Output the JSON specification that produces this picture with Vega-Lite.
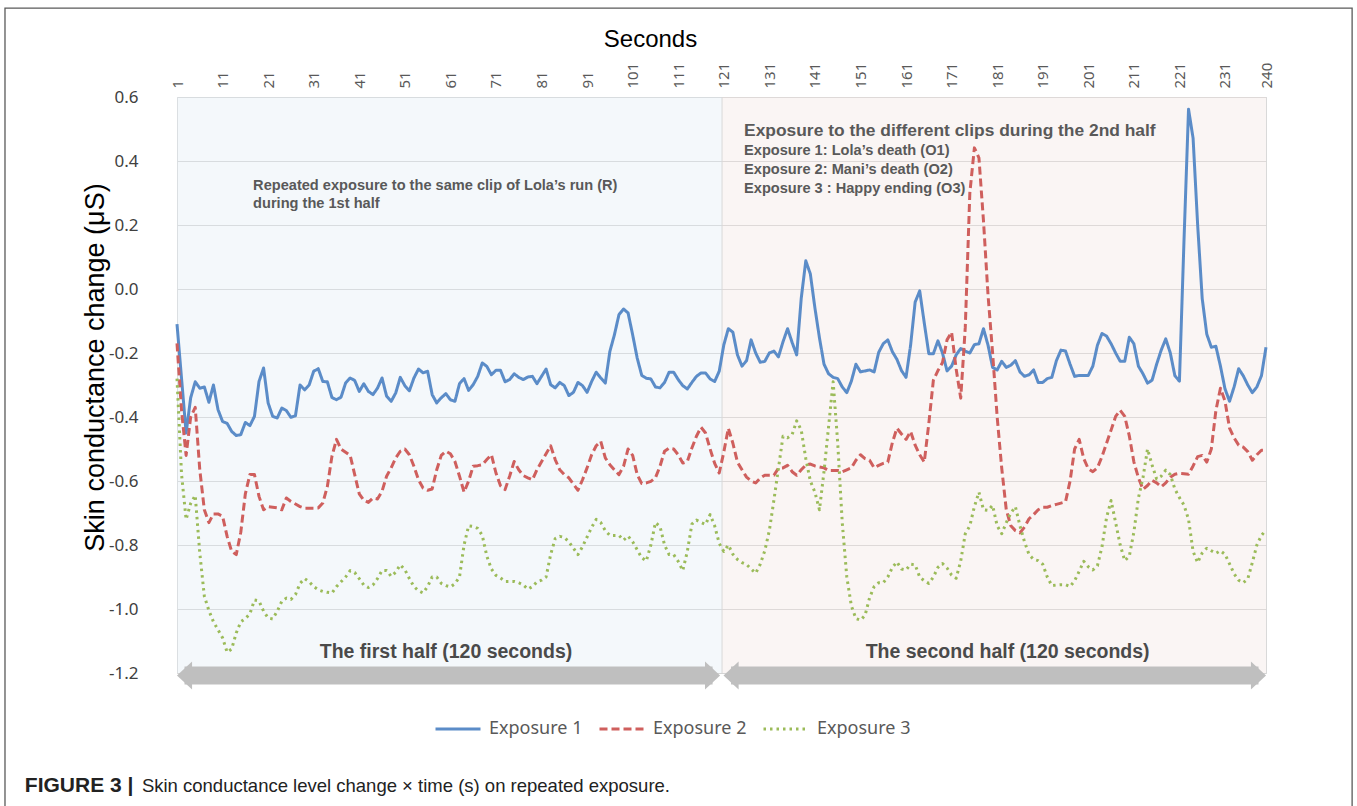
{
"$schema": "https://vega.github.io/schema/vega-lite/v6.json",
"width": 1089,
"height": 576,
"autosize": {"type": "none"},
"padding": {"left": 177, "top": 97, "right": 91, "bottom": 133},
"background": "white",
"config": {"view": {"stroke": "#d9d9d9", "strokeWidth": 1}},
"layer": [
{
"data": {"values": [{}]},
"mark": {"type": "rect", "fillOpacity": 0, "stroke": "#5a5a5a", "strokeWidth": 1.3, "clip": false},
"encoding": {"x": {"datum": -36.75, "type": "quantitative"}, "x2": {"datum": 258.9}, "y": {"datum": 0.878, "type": "quantitative"}, "y2": {"datum": -1.64}}
},
{
"data": {"values": [{"from": 1, "to": 120.62, "half": "first"}, {"from": 120.62, "to": 240, "half": "second"}]},
"mark": {"type": "rect", "opacity": 0.35},
"encoding": {
"x": {"field": "from", "type": "quantitative"}, "x2": {"field": "to"},
"y": {"datum": 0.6, "type": "quantitative"}, "y2": {"datum": -1.2},
"fill": {"condition": {"test": "datum.half === 'first'", "value": "#e0ebf4"}, "value": "#f1e2e0"}
}
},
{
"data": {"values": [{"at": 120.62}]},
"mark": {"type": "rule", "color": "#d9d9d9", "strokeWidth": 1},
"encoding": {"x": {"field": "at", "type": "quantitative"}, "y": {"datum": 0.6, "type": "quantitative"}, "y2": {"datum": -1.2}}
},
{
"data": {"values": [
{"s":1,"e1":-0.11,"e2":-0.17,"e3":-0.28},{"s":2,"e1":-0.28,"e2":-0.38,"e3":-0.58},{"s":3,"e1":-0.45,"e2":-0.52,"e3":-0.72},{"s":4,"e1":-0.34,"e2":-0.40,"e3":-0.67},{"s":5,"e1":-0.29,"e2":-0.37,"e3":-0.645},
{"s":6,"e1":-0.31,"e2":-0.565,"e3":-0.825},{"s":7,"e1":-0.306,"e2":-0.69,"e3":-0.96},{"s":8,"e1":-0.354,"e2":-0.73,"e3":-1.005},{"s":9,"e1":-0.30,"e2":-0.703,"e3":-1.04},{"s":10,"e1":-0.377,"e2":-0.703,"e3":-1.065},
{"s":11,"e1":-0.414,"e2":-0.71,"e3":-1.09},{"s":12,"e1":-0.42,"e2":-0.773,"e3":-1.135},{"s":13,"e1":-0.445,"e2":-0.82,"e3":-1.125},{"s":14,"e1":-0.458,"e2":-0.83,"e3":-1.075},{"s":15,"e1":-0.455,"e2":-0.76,"e3":-1.04},
{"s":16,"e1":-0.417,"e2":-0.64,"e3":-1.03},{"s":17,"e1":-0.427,"e2":-0.58,"e3":-1.015},{"s":18,"e1":-0.398,"e2":-0.58,"e3":-0.972},{"s":19,"e1":-0.289,"e2":-0.648,"e3":-0.975},{"s":20,"e1":-0.247,"e2":-0.69,"e3":-1.007},
{"s":21,"e1":-0.356,"e2":-0.68,"e3":-1.028},{"s":22,"e1":-0.398,"e2":-0.682,"e3":-1.031},{"s":23,"e1":-0.403,"e2":-0.684,"e3":-1.007},{"s":24,"e1":-0.372,"e2":-0.69,"e3":-0.976},{"s":25,"e1":-0.38,"e2":-0.653,"e3":-0.966},
{"s":26,"e1":-0.401,"e2":-0.664,"e3":-0.97},{"s":27,"e1":-0.396,"e2":-0.672,"e3":-0.955},{"s":28,"e1":-0.30,"e2":-0.68,"e3":-0.92},{"s":29,"e1":-0.315,"e2":-0.685,"e3":-0.905},{"s":30,"e1":-0.30,"e2":-0.685,"e3":-0.915},
{"s":31,"e1":-0.257,"e2":-0.685,"e3":-0.93},{"s":32,"e1":-0.249,"e2":-0.684,"e3":-0.94},{"s":33,"e1":-0.289,"e2":-0.669,"e3":-0.945},{"s":34,"e1":-0.29,"e2":-0.617,"e3":-0.948},{"s":35,"e1":-0.339,"e2":-0.523,"e3":-0.95},
{"s":36,"e1":-0.346,"e2":-0.47,"e3":-0.93},{"s":37,"e1":-0.338,"e2":-0.50,"e3":-0.915},{"s":38,"e1":-0.294,"e2":-0.51,"e3":-0.9},{"s":39,"e1":-0.278,"e2":-0.52,"e3":-0.88},{"s":40,"e1":-0.286,"e2":-0.58,"e3":-0.886},
{"s":41,"e1":-0.32,"e2":-0.64,"e3":-0.905},{"s":42,"e1":-0.296,"e2":-0.66,"e3":-0.925},{"s":43,"e1":-0.32,"e2":-0.667,"e3":-0.933},{"s":44,"e1":-0.33,"e2":-0.653,"e3":-0.925},{"s":45,"e1":-0.31,"e2":-0.656,"e3":-0.905},
{"s":46,"e1":-0.278,"e2":-0.632,"e3":-0.88},{"s":47,"e1":-0.335,"e2":-0.585,"e3":-0.88},{"s":48,"e1":-0.351,"e2":-0.559,"e3":-0.898},{"s":49,"e1":-0.325,"e2":-0.528,"e3":-0.885},{"s":50,"e1":-0.276,"e2":-0.507,"e3":-0.862},
{"s":51,"e1":-0.302,"e2":-0.5,"e3":-0.877},{"s":52,"e1":-0.318,"e2":-0.518,"e3":-0.905},{"s":53,"e1":-0.278,"e2":-0.554,"e3":-0.93},{"s":54,"e1":-0.25,"e2":-0.596,"e3":-0.943},{"s":55,"e1":-0.262,"e2":-0.622,"e3":-0.95},
{"s":56,"e1":-0.257,"e2":-0.629,"e3":-0.93},{"s":57,"e1":-0.33,"e2":-0.625,"e3":-0.9},{"s":58,"e1":-0.356,"e2":-0.565,"e3":-0.9},{"s":59,"e1":-0.34,"e2":-0.52,"e3":-0.92},{"s":60,"e1":-0.327,"e2":-0.507,"e3":-0.927},
{"s":61,"e1":-0.346,"e2":-0.515,"e3":-0.931},{"s":62,"e1":-0.351,"e2":-0.539,"e3":-0.921},{"s":63,"e1":-0.296,"e2":-0.585,"e3":-0.9},{"s":64,"e1":-0.28,"e2":-0.635,"e3":-0.8},{"s":65,"e1":-0.317,"e2":-0.6,"e3":-0.74},
{"s":66,"e1":-0.299,"e2":-0.554,"e3":-0.742},{"s":67,"e1":-0.273,"e2":-0.552,"e3":-0.748},{"s":68,"e1":-0.231,"e2":-0.549,"e3":-0.77},{"s":69,"e1":-0.242,"e2":-0.533,"e3":-0.835},{"s":70,"e1":-0.268,"e2":-0.518,"e3":-0.875},
{"s":71,"e1":-0.254,"e2":-0.575,"e3":-0.895},{"s":72,"e1":-0.254,"e2":-0.615,"e3":-0.903},{"s":73,"e1":-0.29,"e2":-0.627,"e3":-0.914},{"s":74,"e1":-0.283,"e2":-0.585,"e3":-0.914},{"s":75,"e1":-0.265,"e2":-0.539,"e3":-0.914},
{"s":76,"e1":-0.276,"e2":-0.565,"e3":-0.918},{"s":77,"e1":-0.283,"e2":-0.583,"e3":-0.925},{"s":78,"e1":-0.275,"e2":-0.59,"e3":-0.938},{"s":79,"e1":-0.273,"e2":-0.596,"e3":-0.93},{"s":80,"e1":-0.296,"e2":-0.565,"e3":-0.915},
{"s":81,"e1":-0.273,"e2":-0.54,"e3":-0.91},{"s":82,"e1":-0.25,"e2":-0.515,"e3":-0.9},{"s":83,"e1":-0.299,"e2":-0.49,"e3":-0.83},{"s":84,"e1":-0.309,"e2":-0.533,"e3":-0.78},{"s":85,"e1":-0.292,"e2":-0.565,"e3":-0.773},
{"s":86,"e1":-0.302,"e2":-0.58,"e3":-0.776},{"s":87,"e1":-0.333,"e2":-0.59,"e3":-0.79},{"s":88,"e1":-0.323,"e2":-0.61,"e3":-0.81},{"s":89,"e1":-0.292,"e2":-0.629,"e3":-0.83},{"s":90,"e1":-0.302,"e2":-0.596,"e3":-0.805},
{"s":91,"e1":-0.323,"e2":-0.559,"e3":-0.775},{"s":92,"e1":-0.289,"e2":-0.518,"e3":-0.745},{"s":93,"e1":-0.26,"e2":-0.49,"e3":-0.72},{"s":94,"e1":-0.278,"e2":-0.476,"e3":-0.73},{"s":95,"e1":-0.294,"e2":-0.528,"e3":-0.755},
{"s":96,"e1":-0.195,"e2":-0.549,"e3":-0.77},{"s":97,"e1":-0.143,"e2":-0.565,"e3":-0.77},{"s":98,"e1":-0.08,"e2":-0.58,"e3":-0.77},{"s":99,"e1":-0.0625,"e2":-0.554,"e3":-0.785},{"s":100,"e1":-0.075,"e2":-0.5,"e3":-0.772},
{"s":101,"e1":-0.143,"e2":-0.52,"e3":-0.79},{"s":102,"e1":-0.216,"e2":-0.58,"e3":-0.815},{"s":103,"e1":-0.27,"e2":-0.608,"e3":-0.84},{"s":104,"e1":-0.279,"e2":-0.606,"e3":-0.85},{"s":105,"e1":-0.281,"e2":-0.601,"e3":-0.8},
{"s":106,"e1":-0.306,"e2":-0.59,"e3":-0.73},{"s":107,"e1":-0.309,"e2":-0.554,"e3":-0.742},{"s":108,"e1":-0.292,"e2":-0.507,"e3":-0.8},{"s":109,"e1":-0.26,"e2":-0.497,"e3":-0.83},{"s":110,"e1":-0.26,"e2":-0.5,"e3":-0.83},
{"s":111,"e1":-0.283,"e2":-0.518,"e3":-0.851},{"s":112,"e1":-0.302,"e2":-0.544,"e3":-0.88},{"s":113,"e1":-0.3125,"e2":-0.539,"e3":-0.82},{"s":114,"e1":-0.292,"e2":-0.497,"e3":-0.735},{"s":115,"e1":-0.273,"e2":-0.46,"e3":-0.722},
{"s":116,"e1":-0.2625,"e2":-0.432,"e3":-0.73},{"s":117,"e1":-0.2625,"e2":-0.45,"e3":-0.736},{"s":118,"e1":-0.281,"e2":-0.5,"e3":-0.705},{"s":119,"e1":-0.289,"e2":-0.545,"e3":-0.74},{"s":120,"e1":-0.257,"e2":-0.575,"e3":-0.795},
{"s":121,"e1":-0.175,"e2":-0.51,"e3":-0.82},{"s":122,"e1":-0.124,"e2":-0.435,"e3":-0.8},{"s":123,"e1":-0.135,"e2":-0.482,"e3":-0.829},{"s":124,"e1":-0.206,"e2":-0.541,"e3":-0.845},{"s":125,"e1":-0.241,"e2":-0.565,"e3":-0.855},
{"s":126,"e1":-0.224,"e2":-0.588,"e3":-0.861},{"s":127,"e1":-0.159,"e2":-0.6,"e3":-0.875},{"s":128,"e1":-0.2,"e2":-0.606,"e3":-0.888},{"s":129,"e1":-0.229,"e2":-0.591,"e3":-0.86},{"s":130,"e1":-0.226,"e2":-0.582,"e3":-0.818},
{"s":131,"e1":-0.2,"e2":-0.582,"e3":-0.755},{"s":132,"e1":-0.194,"e2":-0.582,"e3":-0.66},{"s":133,"e1":-0.212,"e2":-0.56,"e3":-0.56},{"s":134,"e1":-0.165,"e2":-0.559,"e3":-0.46},{"s":135,"e1":-0.124,"e2":-0.551,"e3":-0.465},
{"s":136,"e1":-0.167,"e2":-0.571,"e3":-0.455},{"s":137,"e1":-0.206,"e2":-0.582,"e3":-0.412},{"s":138,"e1":-0.029,"e2":-0.565,"e3":-0.441},{"s":139,"e1":0.088,"e2":-0.55,"e3":-0.53},{"s":140,"e1":0.047,"e2":-0.547,"e3":-0.6},
{"s":141,"e1":-0.059,"e2":-0.553,"e3":-0.635},{"s":142,"e1":-0.153,"e2":-0.556,"e3":-0.69},{"s":143,"e1":-0.235,"e2":-0.559,"e3":-0.57},{"s":144,"e1":-0.265,"e2":-0.567,"e3":-0.43},{"s":145,"e1":-0.276,"e2":-0.567,"e3":-0.29},
{"s":146,"e1":-0.28,"e2":-0.567,"e3":-0.48},{"s":147,"e1":-0.306,"e2":-0.571,"e3":-0.73},{"s":148,"e1":-0.324,"e2":-0.565,"e3":-0.9},{"s":149,"e1":-0.288,"e2":-0.559,"e3":-0.99},{"s":150,"e1":-0.235,"e2":-0.535,"e3":-1.03},
{"s":151,"e1":-0.259,"e2":-0.518,"e3":-1.035},{"s":152,"e1":-0.256,"e2":-0.53,"e3":-1.02},{"s":153,"e1":-0.253,"e2":-0.535,"e3":-0.965},{"s":154,"e1":-0.259,"e2":-0.559,"e3":-0.93},{"s":155,"e1":-0.198,"e2":-0.551,"e3":-0.918},
{"s":156,"e1":-0.171,"e2":-0.545,"e3":-0.918},{"s":157,"e1":-0.159,"e2":-0.541,"e3":-0.9},{"s":158,"e1":-0.196,"e2":-0.48,"e3":-0.87},{"s":159,"e1":-0.22,"e2":-0.435,"e3":-0.853},{"s":160,"e1":-0.255,"e2":-0.453,"e3":-0.875},
{"s":161,"e1":-0.276,"e2":-0.47,"e3":-0.878},{"s":162,"e1":-0.176,"e2":-0.445,"e3":-0.86},{"s":163,"e1":-0.041,"e2":-0.488,"e3":-0.862},{"s":164,"e1":-0.006,"e2":-0.518,"e3":-0.9},{"s":165,"e1":-0.106,"e2":-0.541,"e3":-0.912},
{"s":166,"e1":-0.202,"e2":-0.42,"e3":-0.92},{"s":167,"e1":-0.202,"e2":-0.285,"e3":-0.9},{"s":168,"e1":-0.162,"e2":-0.255,"e3":-0.87},{"s":169,"e1":-0.2,"e2":-0.23,"e3":-0.858},{"s":170,"e1":-0.256,"e2":-0.159,"e3":-0.872},
{"s":171,"e1":-0.241,"e2":-0.135,"e3":-0.894},{"s":172,"e1":-0.206,"e2":-0.25,"e3":-0.904},{"s":173,"e1":-0.186,"e2":-0.341,"e3":-0.85},{"s":174,"e1":-0.194,"e2":-0.12,"e3":-0.765},{"s":175,"e1":-0.2,"e2":0.3,"e3":-0.74},
{"s":176,"e1":-0.174,"e2":0.441,"e3":-0.68},{"s":177,"e1":-0.171,"e2":0.41,"e3":-0.635},{"s":178,"e1":-0.124,"e2":0.212,"e3":-0.69},{"s":179,"e1":-0.176,"e2":-0.02,"e3":-0.692},{"s":180,"e1":-0.245,"e2":-0.2,"e3":-0.676},
{"s":181,"e1":-0.253,"e2":-0.4,"e3":-0.74},{"s":182,"e1":-0.226,"e2":-0.56,"e3":-0.765},{"s":183,"e1":-0.245,"e2":-0.69,"e3":-0.73},{"s":184,"e1":-0.238,"e2":-0.74,"e3":-0.7},{"s":185,"e1":-0.224,"e2":-0.755,"e3":-0.68},
{"s":186,"e1":-0.259,"e2":-0.762,"e3":-0.74},{"s":187,"e1":-0.273,"e2":-0.744,"e3":-0.79},{"s":188,"e1":-0.268,"e2":-0.718,"e3":-0.83},{"s":189,"e1":-0.253,"e2":-0.705,"e3":-0.845},{"s":190,"e1":-0.292,"e2":-0.69,"e3":-0.849},
{"s":191,"e1":-0.292,"e2":-0.682,"e3":-0.86},{"s":192,"e1":-0.28,"e2":-0.682,"e3":-0.9},{"s":193,"e1":-0.276,"e2":-0.677,"e3":-0.927},{"s":194,"e1":-0.224,"e2":-0.673,"e3":-0.925},{"s":195,"e1":-0.191,"e2":-0.669,"e3":-0.924},
{"s":196,"e1":-0.194,"e2":-0.665,"e3":-0.924},{"s":197,"e1":-0.235,"e2":-0.6,"e3":-0.93},{"s":198,"e1":-0.273,"e2":-0.5,"e3":-0.912},{"s":199,"e1":-0.27,"e2":-0.47,"e3":-0.882},{"s":200,"e1":-0.27,"e2":-0.53,"e3":-0.851},
{"s":201,"e1":-0.27,"e2":-0.562,"e3":-0.868},{"s":202,"e1":-0.241,"e2":-0.571,"e3":-0.878},{"s":203,"e1":-0.176,"e2":-0.559,"e3":-0.865},{"s":204,"e1":-0.139,"e2":-0.524,"e3":-0.806},{"s":205,"e1":-0.147,"e2":-0.482,"e3":-0.715},
{"s":206,"e1":-0.171,"e2":-0.441,"e3":-0.661},{"s":207,"e1":-0.2,"e2":-0.398,"e3":-0.73},{"s":208,"e1":-0.226,"e2":-0.379,"e3":-0.8},{"s":209,"e1":-0.226,"e2":-0.398,"e3":-0.849},{"s":210,"e1":-0.151,"e2":-0.459,"e3":-0.835},
{"s":211,"e1":-0.171,"e2":-0.54,"e3":-0.76},{"s":212,"e1":-0.241,"e2":-0.59,"e3":-0.653},{"s":213,"e1":-0.265,"e2":-0.626,"e3":-0.59},{"s":214,"e1":-0.294,"e2":-0.614,"e3":-0.5},{"s":215,"e1":-0.285,"e2":-0.598,"e3":-0.55},
{"s":216,"e1":-0.235,"e2":-0.606,"e3":-0.594},{"s":217,"e1":-0.191,"e2":-0.618,"e3":-0.585},{"s":218,"e1":-0.156,"e2":-0.606,"e3":-0.566},{"s":219,"e1":-0.2,"e2":-0.588,"e3":-0.58},{"s":220,"e1":-0.271,"e2":-0.579,"e3":-0.625},
{"s":221,"e1":-0.288,"e2":-0.576,"e3":-0.652},{"s":222,"e1":0.15,"e2":-0.577,"e3":-0.675},{"s":223,"e1":0.562,"e2":-0.579,"e3":-0.72},{"s":224,"e1":0.471,"e2":-0.553,"e3":-0.82},{"s":225,"e1":0.2,"e2":-0.524,"e3":-0.855},
{"s":226,"e1":-0.03,"e2":-0.52,"e3":-0.825},{"s":227,"e1":-0.141,"e2":-0.541,"e3":-0.81},{"s":228,"e1":-0.182,"e2":-0.5,"e3":-0.818},{"s":229,"e1":-0.179,"e2":-0.38,"e3":-0.826},{"s":230,"e1":-0.241,"e2":-0.31,"e3":-0.818},
{"s":231,"e1":-0.312,"e2":-0.35,"e3":-0.829},{"s":232,"e1":-0.351,"e2":-0.435,"e3":-0.859},{"s":233,"e1":-0.306,"e2":-0.465,"e3":-0.89},{"s":234,"e1":-0.249,"e2":-0.488,"e3":-0.91},{"s":235,"e1":-0.271,"e2":-0.494,"e3":-0.918},
{"s":236,"e1":-0.3,"e2":-0.508,"e3":-0.906},{"s":237,"e1":-0.324,"e2":-0.535,"e3":-0.855},{"s":238,"e1":-0.306,"e2":-0.518,"e3":-0.8},{"s":239,"e1":-0.271,"e2":-0.504,"e3":-0.77},{"s":240,"e1":-0.182,"e2":-0.504,"e3":-0.753}
]},
"transform": [{"fold": ["e1", "e2", "e3"], "as": ["series", "value"]}],
"mark": {"type": "line", "strokeWidth": 3, "strokeCap": "butt", "strokeJoin": "round"},
"encoding": {
"x": {"field": "s", "type": "quantitative", "scale": {"domain": [1, 240], "nice": false, "zero": false},
"axis": {"orient": "top", "values": [1, 11, 21, 31, 41, 51, 61, 71, 81, 91, 101, 111, 121, 131, 141, 151, 161, 171, 181, 191, 201, 211, 221, 231, 240],
"labelAngle": 270, "labelAlign": "left", "labelBaseline": "middle", "labelFont": "Noto Sans", "labelFontSize": 15, "labelColor": "#595959", "labelPadding": 9, "labelFlush": false, "labelOverlap": false,
"ticks": false, "tickSize": 0, "domain": false, "grid": false,
"title": "Seconds", "titleFont": "Liberation Sans", "titleFontSize": 24, "titleFontWeight": "normal", "titleColor": "#000000", "titleX": 473, "titleY": -51, "titleBaseline": "alphabetic", "titleAlign": "center"}},
"y": {"field": "value", "type": "quantitative", "scale": {"domain": [-1.2, 0.6], "nice": false, "zero": false},
"axis": {"values": [-1.2, -1, -0.8, -0.6, -0.4, -0.2, 0, 0.2, 0.4, 0.6], "labelExpr": "replace(format(datum.value, '.1f'), '−', '-')",
"labelFont": "Noto Sans", "labelFontSize": 17, "labelColor": "#404040", "labelPadding": 39, "labelFlush": false,
"ticks": false, "tickSize": 0, "domain": false, "grid": true, "gridColor": "#d4d4d4", "gridWidth": 1,
"title": "Skin conductance change (μS)", "titleFont": "Liberation Sans", "titleFontSize": 27, "titleFontWeight": "normal", "titleColor": "#000000", "titleAngle": 270, "titleX": -82, "titleY": 270, "titleBaseline": "middle", "titleAlign": "center"}},
"color": {"field": "series", "type": "nominal",
"scale": {"domain": ["e1", "e2", "e3"], "range": ["#5b8cc8", "#cf5f5d", "#9bbb59"]},
"legend": {"orient": "none", "legendX": 257, "legendY": 608, "direction": "horizontal", "title": null,
"labelExpr": "replace(datum.label, 'e', 'Exposure ')", "symbolType": "stroke", "symbolStrokeWidth": 3, "symbolSize": 2025,
"labelFont": "Noto Sans", "labelFontSize": 18, "labelColor": "#595959", "labelOffset": 7, "columnPadding": 10, "labelLimit": 0}},
"strokeDash": {"field": "series", "type": "nominal",
"scale": {"domain": ["e1", "e2", "e3"], "range": [[1, 0], [8, 4], [2.5, 4]]},
"legend": {"orient": "none", "legendX": 257, "legendY": 608, "direction": "horizontal", "title": null,
"labelExpr": "replace(datum.label, 'e', 'Exposure ')", "symbolType": "stroke", "symbolStrokeWidth": 3, "symbolSize": 2025,
"labelFont": "Noto Sans", "labelFontSize": 18, "labelColor": "#595959", "labelOffset": 7, "columnPadding": 10, "labelLimit": 0}}
}
},
{
"data": {"values": [{"tail": 2.65, "head": 118.54}, {"tail": 122.6, "head": 238.35}]},
"mark": {"type": "rule", "color": "#bfbfbf", "strokeWidth": 18, "strokeCap": "butt"},
"encoding": {"x": {"field": "tail", "type": "quantitative"}, "x2": {"field": "head"}, "y": {"datum": -1.208, "type": "quantitative"}}
},
{
"data": {"values": [{"tail": 2.65, "head": 118.54}, {"tail": 122.6, "head": 238.35}]},
"mark": {"type": "point", "shape": "M0.54,-1L-0.54,0L0.54,1Z", "size": 784, "filled": true, "color": "#bfbfbf", "opacity": 1, "strokeWidth": 0},
"encoding": {"x": {"field": "tail", "type": "quantitative"}, "y": {"datum": -1.208, "type": "quantitative"}}
},
{
"data": {"values": [{"tail": 2.65, "head": 118.54}, {"tail": 122.6, "head": 238.35}]},
"mark": {"type": "point", "shape": "M-0.54,-1L0.54,0L-0.54,1Z", "size": 784, "filled": true, "color": "#bfbfbf", "opacity": 1, "strokeWidth": 0},
"encoding": {"x": {"field": "head", "type": "quantitative"}, "y": {"datum": -1.208, "type": "quantitative"}}
},
{
"data": {"values": [
{"s": 17.7, "v": 0.309, "text": "Repeated exposure to the same clip of Lola’s run (R)"},
{"s": 17.7, "v": 0.252, "text": "during the 1st half"},
{"s": 125.45, "v": 0.418, "text": "Exposure 1: Lola’s death (O1)"},
{"s": 125.45, "v": 0.359, "text": "Exposure 2: Mani’s death (O2)"},
{"s": 125.45, "v": 0.30, "text": "Exposure 3 : Happy ending (O3)"}
]},
"mark": {"type": "text", "align": "left", "baseline": "alphabetic", "font": "Liberation Sans", "fontWeight": "bold", "fontSize": 14.6, "color": "#595959"},
"encoding": {"x": {"field": "s", "type": "quantitative"}, "y": {"field": "v", "type": "quantitative"}, "text": {"field": "text"}}
},
{
"data": {"values": [{"s": 125.45, "v": 0.478, "text": "Exposure to the different clips during the 2nd half"}]},
"mark": {"type": "text", "align": "left", "baseline": "alphabetic", "font": "Liberation Sans", "fontWeight": "bold", "fontSize": 17.4, "color": "#595959"},
"encoding": {"x": {"field": "s", "type": "quantitative"}, "y": {"field": "v", "type": "quantitative"}, "text": {"field": "text"}}
},
{
"data": {"values": [
{"s": 60.04, "v": -1.153, "text": "The first half (120 seconds)"},
{"s": 183.3, "v": -1.153, "text": "The second half (120 seconds)"}
]},
"mark": {"type": "text", "align": "center", "baseline": "alphabetic", "font": "Liberation Sans", "fontWeight": "bold", "fontSize": 19.5, "color": "#4a4a4a"},
"encoding": {"x": {"field": "s", "type": "quantitative"}, "y": {"field": "v", "type": "quantitative"}, "text": {"field": "text"}}
},
{
"data": {"values": [{"s": -32.4, "v": -1.572, "text": "FIGURE 3 |"}]},
"mark": {"type": "text", "align": "left", "baseline": "alphabetic", "font": "Liberation Sans", "fontWeight": "bold", "fontSize": 21, "color": "#222222"},
"encoding": {"x": {"field": "s", "type": "quantitative"}, "y": {"field": "v", "type": "quantitative"}, "text": {"field": "text"}}
},
{
"data": {"values": [{"s": -6.7, "v": -1.572, "text": "Skin conductance level change × time (s) on repeated exposure."}]},
"mark": {"type": "text", "align": "left", "baseline": "alphabetic", "font": "Liberation Sans", "fontSize": 18.5, "color": "#222222"},
"encoding": {"x": {"field": "s", "type": "quantitative"}, "y": {"field": "v", "type": "quantitative"}, "text": {"field": "text"}}
}
]
}
